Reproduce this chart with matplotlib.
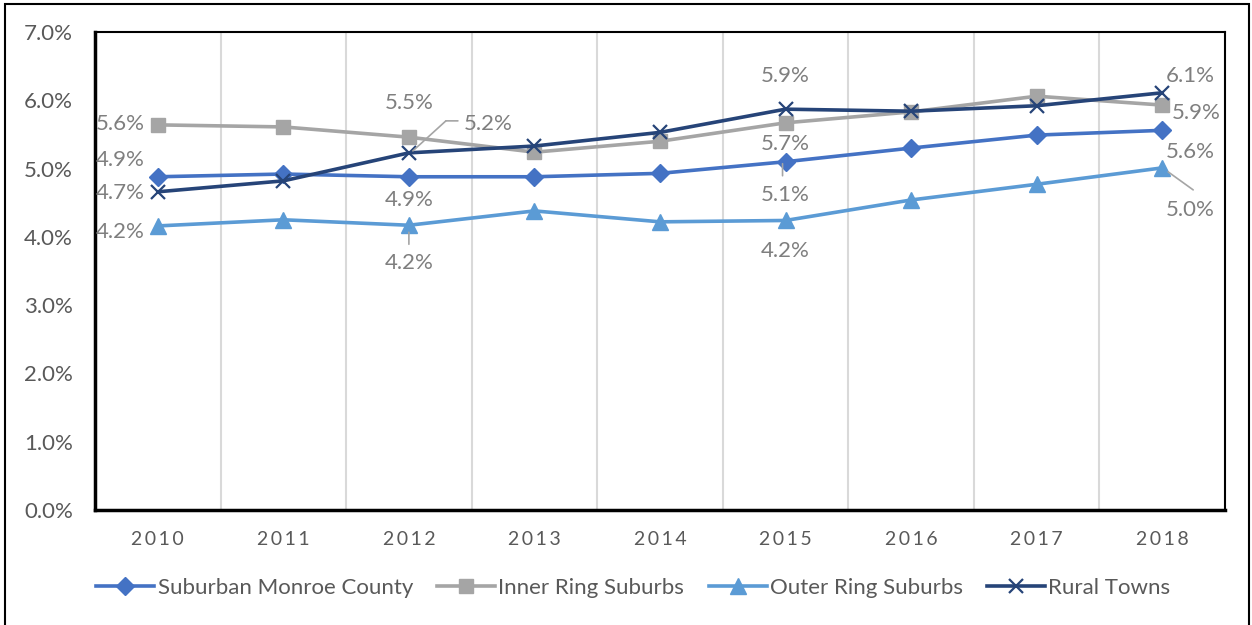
import matplotlib.pyplot as plt
from matplotlib.ticker import PercentFormatter, FixedLocator
from matplotlib.patches import Rectangle
from matplotlib.transforms import offset_copy

plt.rcParams['font.family'] = ['Lato', 'DejaVu Sans']

years = ['2010', '2011', '2012', '2013', '2014', '2015', '2016', '2017', '2018']
suburban = [4.88, 4.92, 4.88, 4.88, 4.93, 5.10, 5.30, 5.49, 5.56]
inner_ring = [5.64, 5.61, 5.46, 5.24, 5.40, 5.67, 5.83, 6.06, 5.93]
outer_ring = [4.16, 4.25, 4.17, 4.38, 4.22, 4.24, 4.54, 4.77, 5.01]
rural = [4.66, 4.82, 5.23, 5.33, 5.53, 5.87, 5.84, 5.92, 6.11]

series = [
    ('Suburban Monroe County', suburban, '#4472C4', 'D', 9),
    ('Inner Ring Suburbs', inner_ring, '#A5A5A5', 's', 10),
    ('Outer Ring Suburbs', outer_ring, '#5B9BD5', '^', 11),
    ('Rural Towns', rural, '#264478', 'x', 10),
]

# data labels: (series index, year index, dx px, dy px)
labels = [
    (1, 0, -38, 1), (0, 0, -38, 17), (3, 0, -38, -1), (2, 0, -38, -6),
    (1, 2, 0, 34), (3, 2, 79, 29), (0, 2, 0, -23), (2, 2, 0, -38),
    (3, 5, 0, 33), (1, 5, 0, -21), (0, 5, 0, -33), (2, 5, 0, -31),
    (3, 8, 28, 17), (1, 8, 34, -8), (0, 8, 28, -22), (2, 8, 28, -42),
]
# leader lines: (series index, year index, pixel offsets of the vertices)
leaders = [
    (3, 2, [(4, 2), (37, 32), (49, 32)]),
    (2, 2, [(0, -7), (0, -19)]),
    (0, 5, [(-3, -2), (-3, -14)]),
    (2, 8, [(6, -4), (31, -22)]),
]

fig = plt.figure(figsize=(12.52, 6.25), dpi=100)
ax = fig.add_axes([0.0759, 0.184, 0.9025, 0.7648])

x = list(range(len(years)))
for name, vals, color, marker, ms in series:
    if marker == 'x':
        ax.plot(x, vals, color=color, lw=2.6, marker=marker, ms=ms, mew=1.6, label=name)
    else:
        ax.plot(x, vals, color=color, lw=2.6, marker=marker, ms=ms, label=name)

for si, yi, dx, dy in labels:
    vals = series[si][1]
    ax.annotate('%.1f%%' % vals[yi], (yi, vals[yi]), xytext=(dx, dy),
                textcoords='offset pixels', ha='center', va='center',
                fontsize=16, color='#7F7F7F')

for si, yi, pts in leaders:
    v = series[si][1][yi]
    for (x1, y1), (x2, y2) in zip(pts[:-1], pts[1:]):
        tr = offset_copy(ax.transData, fig=fig, x=x1, y=y1, units='dots')
        ax.annotate('', (yi, v), xycoords=tr, xytext=(x2 - x1, y2 - y1),
                    textcoords='offset pixels',
                    arrowprops=dict(arrowstyle='-', color='#A5A5A5', lw=1.2,
                                    shrinkA=0, shrinkB=0))

ax.set_xlim(-0.5, 8.5)
ax.set_ylim(0, 7)
ax.set_xticks(x)
ax.set_xticklabels(['\u2009'.join(y) for y in years])
ax.yaxis.set_major_formatter(PercentFormatter(decimals=1))
ax.set_yticks([0, 1, 2, 3, 4, 5, 6, 7])
ax.xaxis.set_minor_locator(FixedLocator([i + 0.5 for i in range(8)]))
ax.grid(axis='x', which='minor', color='#D9D9D9', lw=1.5)
ax.set_axisbelow(True)
ax.tick_params(axis='both', which='both', length=0, labelcolor='#595959')
ax.tick_params(axis='x', pad=15, labelsize=14)
ax.tick_params(axis='y', pad=16, labelsize=16)
for sp in ax.spines.values():
    sp.set_color('black')
    sp.set_linewidth(1.5)
ax.spines['left'].set_linewidth(2.5)
ax.spines['bottom'].set_linewidth(2.5)

fig.legend(loc='center', bbox_to_anchor=(0.506, 0.059), ncol=4, frameon=False,
           fontsize=16, labelcolor='#595959', handlelength=2.6, handletextpad=0.15,
           columnspacing=1.1)

fig.patches.append(Rectangle((0.004, -0.01), 0.994, 1.003, transform=fig.transFigure,
                             fill=False, edgecolor='black', lw=1.5))

fig.savefig('out.png', dpi=100)
